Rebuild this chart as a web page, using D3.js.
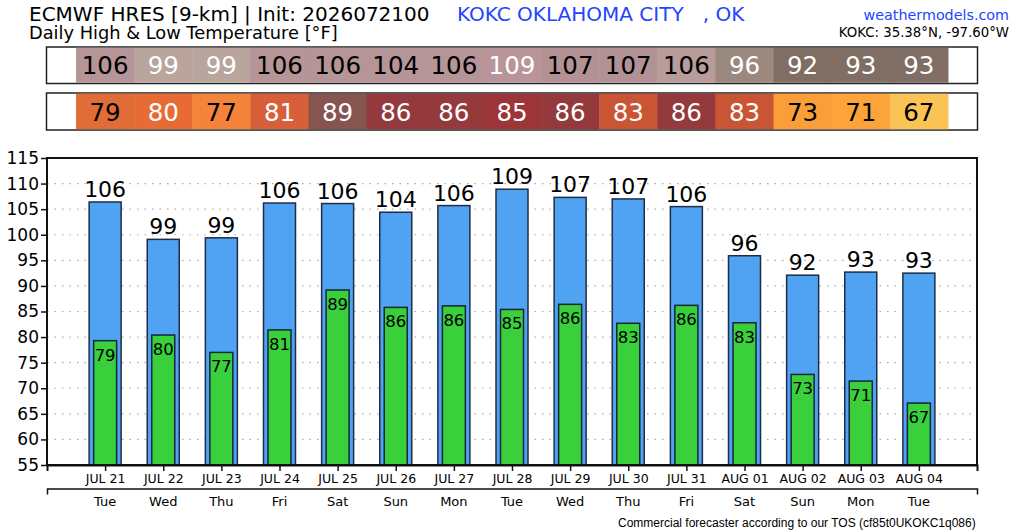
<!DOCTYPE html>
<html>
<head>
<meta charset="utf-8">
<script src="https://cdn.jsdelivr.net/npm/d3@7"></script>
<style>
  body { margin: 0; background: #fff; }
  text { font-family: "DejaVu Sans", sans-serif; }
</style>
</head>
<body>
<svg id="chart" width="1024" height="532"></svg>
<script>
// data
var dates = ['JUL 21','JUL 22','JUL 23','JUL 24','JUL 25','JUL 26','JUL 27','JUL 28',
             'JUL 29','JUL 30','JUL 31','AUG 01','AUG 02','AUG 03','AUG 04']
var weekdays = ['Tue','Wed','Thu','Fri','Sat','Sun','Mon','Tue','Wed','Thu','Fri','Sat','Sun','Mon','Tue']
var highs = [106.4, 99.1, 99.4, 106.2, 106.1, 104.4, 105.7, 108.9, 107.3, 107.0, 105.5, 95.9, 92.1, 92.7, 92.5]
var lows = [79.3, 80.4, 77.0, 81.4, 89.2, 85.8, 86.1, 85.4, 86.4, 82.7, 86.2, 82.8, 72.7, 71.4, 67.1]
var highColors = ['#b59598','#b9a49e','#b9a49e','#b59598','#b59598','#b59598','#b59598','#b99499',
                  '#b39296','#b39296','#b89c9a','#9b887e','#806e65','#806e65','#806e65']
var lowColors = ['#e06d38','#e86b35','#f5843a','#d7603a','#86554f','#953a3c','#953a3c','#9c3537',
                 '#953a3c','#c95535','#953a3c','#c95535','#fa9f38','#fca43a','#f9c454']
var highText = ['#000','#fff','#fff','#000','#000','#000','#000','#fff','#000','#000','#000','#fff','#fff','#fff','#fff']
var lowText = ['#000','#fff','#000','#fff','#fff','#fff','#fff','#fff','#fff','#fff','#fff','#fff','#000','#000','#000']
var yTicks = [55, 60, 65, 70, 75, 80, 85, 90, 95, 100, 105, 110, 115]

var svg = d3.select('#chart'),
    plotL = 47, plotR = 977, plotT = 158, plotB = 465,
    x = d3.scaleLinear().domain([-1, dates.length]).range([plotL, plotR]),
    y = d3.scaleLinear().domain([55, 115]).range([plotB, plotT]),
    step = x(1) - x(0)

// header
svg.append('text').attr('x', 29).attr('y', 20.5).attr('font-size', 20)
    .text('ECMWF HRES [9-km] | Init: 2026072100')
svg.append('text').attr('x', 29).attr('y', 39).attr('font-size', 17.8)
    .text('Daily High & Low Temperature [°F]')
svg.append('text').attr('x', 457).attr('y', 20.5).attr('font-size', 20).attr('fill', '#2443ff')
    .attr('xml:space', 'preserve')
    .text('KOKC OKLAHOMA CITY   , OK')
svg.append('text').attr('x', 1009).attr('y', 20).attr('font-size', 14.3).attr('fill', '#2443ff')
    .attr('text-anchor', 'end').text('weathermodels.com')
svg.append('text').attr('x', 1009).attr('y', 37).attr('font-size', 13.3).attr('text-anchor', 'end')
    .text('KOKC: 35.38°N, -97.60°W')

// colour strips
function strip(y0, h, vals, fills, inks) {
    svg.append('rect').attr('x', plotL - 0.5).attr('y', y0).attr('width', plotR - plotL + 1)
        .attr('height', h).attr('fill', '#fff').attr('stroke', '#222').attr('stroke-width', 1.5)
    svg.selectAll(null).data(vals).enter().append('rect')
        .attr('x', (d, i) => x(i) - step / 2).attr('y', y0 + 0.75)
        .attr('width', step + 0.5).attr('height', h - 1.5)
        .attr('fill', (d, i) => fills[i])
    svg.selectAll(null).data(vals).enter().append('text')
        .attr('x', (d, i) => x(i)).attr('y', y0 + h / 2 + 9)
        .attr('text-anchor', 'middle').attr('font-size', 24.5)
        .attr('fill', (d, i) => inks[i])
        .text(d => Math.round(d))
}
strip(47, 36.5, highs, highColors, highText)
strip(93, 37, lows, lowColors, lowText)

// grid
svg.selectAll(null).data(yTicks.slice(1, -1)).enter().append('line')
    .attr('x1', plotL).attr('x2', plotR)
    .attr('y1', d => y(d)).attr('y2', d => y(d))
    .attr('stroke', '#aaa').attr('stroke-width', 1.2).attr('stroke-dasharray', '1.5,6')

// bars
svg.selectAll(null).data(highs).enter().append('rect')
    .attr('x', (d, i) => x(i) - 16).attr('width', 32)
    .attr('y', d => y(d)).attr('height', d => plotB - y(d))
    .attr('fill', '#50a3f2').attr('stroke', '#1f2d44').attr('stroke-width', 1.5)
svg.selectAll(null).data(lows).enter().append('rect')
    .attr('x', (d, i) => x(i) - 11.5).attr('width', 23)
    .attr('y', d => y(d)).attr('height', d => plotB - y(d))
    .attr('fill', '#39d03c').attr('stroke', '#14243a').attr('stroke-width', 1.5)

svg.selectAll(null).data(highs).enter().append('text')
    .attr('x', (d, i) => x(i)).attr('y', d => y(d) - 5)
    .attr('text-anchor', 'middle').attr('font-size', 22)
    .text(d => Math.round(d))
svg.selectAll(null).data(lows).enter().append('text')
    .attr('x', (d, i) => x(i)).attr('y', d => y(d) + 20)
    .attr('text-anchor', 'middle').attr('font-size', 16.5)
    .text(d => Math.round(d))

// frame and axes
svg.append('rect').attr('x', plotL).attr('y', plotT).attr('width', plotR - plotL)
    .attr('height', plotB - plotT).attr('fill', 'none').attr('stroke', '#111').attr('stroke-width', 2)

var yAxis = svg.append('g').attr('transform', 'translate(' + plotL + ',0)')
    .call(d3.axisLeft(y).tickValues(yTicks).tickSize(6).tickSizeOuter(0))
yAxis.select('.domain').remove()
yAxis.selectAll('text').attr('font-size', 17).attr('fill', '#000').attr('dx', 1)
    .style('font-family', '"DejaVu Sans", sans-serif')
yAxis.selectAll('line').attr('stroke', '#111').attr('stroke-width', 1.5)

var xAxis = svg.append('g').attr('transform', 'translate(0,' + plotB + ')')
    .call(d3.axisBottom(x).tickValues(d3.range(dates.length)).tickFormat(i => dates[i])
        .tickSize(6).tickSizeOuter(6).tickPadding(3))
xAxis.select('.domain').attr('stroke', '#111').attr('stroke-width', 2)
xAxis.selectAll('line').attr('stroke', '#111').attr('stroke-width', 1.5)
xAxis.selectAll('text').attr('font-size', 12.5).attr('fill', '#000')
    .style('font-family', '"DejaVu Sans", sans-serif')

var dayAxis = svg.append('g').attr('transform', 'translate(0,488.5)')
    .call(d3.axisBottom(x).tickValues([]).tickSizeOuter(6))
dayAxis.select('.domain').attr('stroke', '#111').attr('stroke-width', 1.5)
svg.selectAll(null).data(weekdays).enter().append('text')
    .attr('x', (d, i) => x(i)).attr('y', 506)
    .attr('text-anchor', 'middle').attr('font-size', 13)
    .text(d => d)

svg.append('text').attr('x', 618).attr('y', 527).attr('font-size', 12)
    .style('font-family', '"Liberation Sans", Arial, sans-serif')
    .text('Commercial forecaster according to our TOS (cf85t0UKOKC1q086)')
</script>
</body>
</html>
